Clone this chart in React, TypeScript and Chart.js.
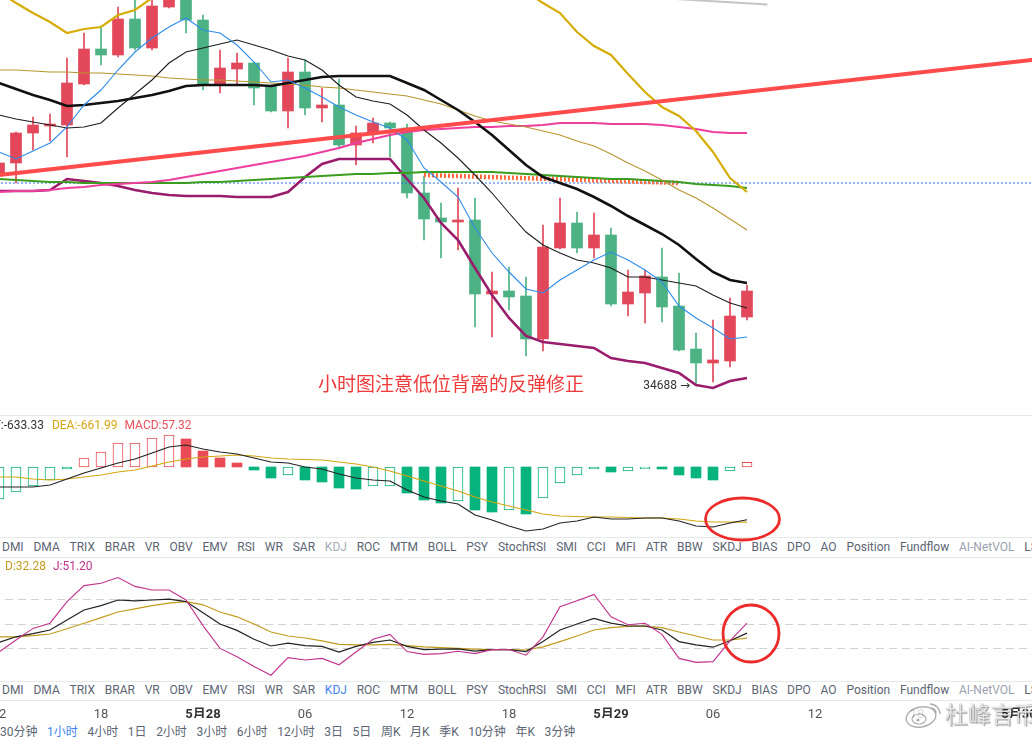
import React, { useEffect, useRef } from "react";
import { Chart, registerables } from "chart.js";

Chart.register(...registerables);
Chart.defaults.font.family = "Roboto, 'Noto Sans CJK SC', sans-serif";

// ---------------- data ----------------
// hourly candles, hour index relative to 5月28 00:00
const FIRST_HOUR = -12;
const OPEN = [36810, 36910, 37210, 37280, 37290, 37700, 38050, 37990, 38350, 38060, 38470, 38690,
  38340, 37700, 37850, 37910, 37680, 37430, 37820, 37460, 37490, 37090, 37210, 37310,
  37260, 36610, 36360, 36320, 36340, 35600, 35630, 35580, 35150, 36060, 36310, 36060,
  36190, 35500, 35610, 35770, 35480, 35050, 34910, 34930, 35370];
const HIGH = [36990, 37220, 37370, 37400, 37960, 38210, 38280, 38470, 38590, 38590, 38790, 38790,
  38390, 38040, 38010, 37920, 37690, 37960, 37940, 37660, 37750, 37280, 37360, 37320,
  37300, 36780, 36510, 36660, 36560, 35820, 35870, 35770, 36290, 36560, 36420, 36410,
  36260, 35840, 35840, 36060, 35810, 35210, 35340, 35560, 35690];
const LOW = [36740, 36710, 37040, 37130, 36970, 37690, 37890, 37970, 38040, 38040, 38460, 38210,
  37640, 37610, 37700, 37490, 37420, 37260, 37390, 37320, 37070, 36890, 37110, 36970,
  36560, 36140, 35960, 36040, 35270, 35170, 35440, 34980, 35030, 36050, 36010, 35960,
  35480, 35380, 35310, 35320, 35030, 34688, 34720, 34870, 35340];
const CLOSE = [36910, 37210, 37290, 37300, 37710, 38050, 37990, 38350, 38060, 38480, 38690, 38340,
  37700, 37860, 37910, 37660, 37430, 37820, 37460, 37490, 37090, 37210, 37310, 37260,
  36610, 36350, 36320, 36340, 35600, 35630, 35570, 35150, 36070, 36310, 36060, 36190,
  35500, 35620, 35780, 35470, 35040, 34910, 34940, 35380, 35630];

const MA_FAST = [37020, 36950, 37030, 37110, 37270, 37490, 37640, 37840, 38020, 38160, 38270, 38360,
  38240, 38210, 38090, 37920, 37720, 37740, 37660, 37570, 37470, 37390, 37320, 37260,
  37140, 36860, 36720, 36570, 36260, 36010, 35820, 35650, 35610, 35740, 35840, 35940,
  36020, 35940, 35840, 35720, 35480, 35360, 35260, 35150, 35170];
const MA_MID = [37390, 37350, 37320, 37290, 37260, 37270, 37310, 37460, 37600, 37740, 37910, 38020,
  38060, 38100, 38140, 38090, 38040, 37980, 37940, 37840, 37690, 37570, 37530, 37500,
  37390, 37240, 37110, 36960, 36790, 36610, 36410, 36220, 36090, 36010, 35940, 35910,
  35860, 35770, 35770, 35740, 35710, 35680, 35590, 35510, 35460];
const MA_SLOW = [37710, 37650, 37590, 37540, 37480, 37490, 37510, 37530, 37560, 37590, 37630, 37680,
  37690, 37690, 37690, 37690, 37680, 37710, 37740, 37770, 37780, 37780, 37780, 37780,
  37710, 37640, 37540, 37440, 37320, 37190, 37040, 36890, 36770, 36710, 36650, 36570,
  36480, 36380, 36290, 36200, 36090, 35950, 35820, 35740, 35710];
const MA_LONG = [37840, 37840, 37830, 37820, 37820, 37810, 37810, 37800, 37790, 37780, 37760, 37750,
  37740, 37740, 37730, 37720, 37710, 37700, 37690, 37670, 37660, 37640, 37620, 37600,
  37580, 37540, 37500, 37440, 37380, 37330, 37300, 37270, 37230, 37190, 37130, 37080,
  37000, 36910, 36830, 36740, 36640, 36560, 36460, 36350, 36240];
const BAND_UPPER = [38620, 38510, 38410, 38320, 38210, 38250, 38270, 38390, 38440, 38560, 38720, 38890,
  null, null, null, null, null, null, null, null, null, null, null, null,
  null, null, null, null, null, null, 38790, 38620, 38510, 38410, 38220, 38080,
  37990, 37800, 37620, 37470, 37380, 37230, 37020, 36760, 36620];
const BAND_LOWER = [36630, 36630, 36630, 36640, 36750, 36730, 36710, 36680, 36640, 36610, 36590, 36580,
  36580, 36580, 36570, 36570, 36570, 36620, 36770, 36900, 36950, 36950, 36950, 36950,
  36750, 36560, 36310, 36140, 35860, 35590, 35360, 35180, 35120, 35100, 35080, 35060,
  34960, 34930, 34910, 34860, 34810, 34690, 34660, 34730, 34760];
const MA_PINK = [36620, 36630, 36630, 36640, 36660, 36670, 36690, 36700, 36710, 36720, 36740, 36770,
  36800, 36830, 36860, 36890, 36920, 36950, 36980, 37020, 37060, 37110, 37150, 37190,
  37220, 37240, 37250, 37260, 37270, 37270, 37280, 37280, 37290, 37310, 37310, 37310,
  37300, 37300, 37300, 37290, 37270, 37250, 37220, 37210, 37210];
const MA_GREEN = [36750, 36740, 36730, 36720, 36720, 36710, 36710, 36710, 36710, 36710, 36710, 36710,
  36720, 36720, 36730, 36740, 36750, 36760, 36770, 36780, 36790, 36800, 36800, 36810,
  36810, 36820, 36820, 36820, 36820, 36820, 36810, 36800, 36790, 36780, 36770, 36760,
  36750, 36750, 36740, 36730, 36720, 36700, 36690, 36680, 36660];

const TREND_HOURS = [-12, 49];
const TREND_PRICES = [36789, 37944];
const SUPPORT_HOURS = [13, 28];
const SUPPORT_PRICES = [36790, 36710];
const PRICE_LINE_HOURS = [-14, 51];
const PRICE_LINE = [36710, 36710];
const GRAY_HOURS = [27.8, 33.2];
const GRAY_PRICES = [38550, 38495];
const LOW_LABEL = "34688 →";
const NOTE = "小时图注意低位背离的反弹修正";

const MACD_HIST = [-384, -300, -228, -156, -24, 108, 180, 288, 288, 348, 384, 336,
  192, 108, 48, -36, -132, -96, -156, -180, -252, -264, -228, -228,
  -312, -396, -432, -408, -516, -540, -516, -564, -372, -192, -96, -24,
  -60, -48, -20, -24, -96, -132, -156, -48, 57.32];
const DIF = [-240, -240, -240, -216, -144, -72, -12, 48, 96, 168, 240, 264,
  216, 180, 156, 108, 60, 48, 0, -24, -84, -132, -156, -168,
  -276, -360, -408, -444, -576, -636, -708, -768, -744, -672, -648, -600,
  -624, -624, -612, -612, -648, -708, -720, -672, -633.33];
const DEA = [-120, -120, -144, -156, -144, -120, -96, -60, -36, 12, 60, 96,
  120, 132, 144, 132, 108, 96, 90, 84, 60, 36, 0, -48,
  -108, -168, -228, -288, -360, -420, -468, -516, -564, -588, -594, -600,
  -600, -606, -612, -612, -624, -648, -660, -660, -661.99];

const K_LINE = [27, 34, 38, 42.5, 55, 67.5, 73, 80, 79, 80, 81, 78,
  64, 50, 42, 31, 22.5, 26, 23, 22, 15, 22, 27, 30,
  22, 18, 18.5, 19, 16, 18, 18, 15.5, 28, 42.5, 50, 57,
  51, 47.5, 47.5, 42.5, 28, 24, 21, 29, 38.61];
const D_LINE = [34, 34, 35.5, 37.5, 44, 51, 58, 65, 69, 73, 76, 78,
  74, 65, 59, 50, 40, 35, 32.5, 29, 24.5, 24, 24, 24.5,
  23, 21.5, 20.5, 19.5, 18.5, 18, 18, 17.5, 21.5, 28, 35, 42.5,
  45.5, 47, 47.5, 45.5, 40, 35, 30, 30, 32.28];
const J_LINE = [15, 30, 44.5, 51, 78, 98, 101, 108, 97, 92.5, 92.5, 80,
  48, 19.5, 9, -3, -14, 8, 5, 7, -1, 15, 31, 37,
  15.5, 12, 13, 16, 13, 18, 18, 11, 34, 71.5, 79, 87,
  59, 49, 51, 37, 7, 2, 3, 29, 51.2];
const KDJ_LEVELS = [20, 50, 80];

const TIME_TICKS = [-12, -6, 0, 6, 12, 18, 24, 30, 36, 42, 48];
const TIME_LABELS = ["12", "18", "5月28", "06", "12", "18", "5月29", "06", "12", "18", "5月30"];

const INDICATOR_TABS = ["DMI", "DMA", "TRIX", "BRAR", "VR", "OBV", "EMV", "RSI", "WR", "SAR", "KDJ", "ROC",
  "MTM", "BOLL", "PSY", "StochRSI", "SMI", "CCI", "MFI", "ATR", "BBW", "SKDJ", "BIAS", "DPO", "AO",
  "Position", "Fundflow", "AI-NetVOL", "LSR"];
const PERIOD_TABS = ["30分钟", "1小时", "4小时", "1日", "2小时", "3小时", "6小时", "12小时", "3日", "5日",
  "周K", "月K", "季K", "10分钟", "年K", "3分钟"];

// ---------------- layout ----------------
const HOURS = OPEN.map((_, i) => FIRST_HOUR + i);
const X_ZERO = 203;
const HOUR_PX = 17;
const CANVAS_LEFT = -34;
const CANVAS_W = 1100;
const X_MIN = (CANVAS_LEFT - X_ZERO) / HOUR_PX;
const X_MAX = (CANVAS_LEFT + CANVAS_W - X_ZERO) / HOUR_PX;

const RED = "#E2475A";
const GREEN = "#4CB283";
const MACD_RED = "#EA4C57";
const MACD_GREEN = "#07B37D";

const baseOptions = () => ({
  animation: false as const,
  responsive: false,
  devicePixelRatio: 1,
  layout: { padding: 0 },
  events: [] as any[],
  plugins: { legend: { display: false }, tooltip: { enabled: false } },
});

const pts = (hours: number[], arr: (number | null)[]) => arr.map((v, i) => ({ x: hours[i], y: v }));
const line = (arr: (number | null)[], color: string, width: number, extra: any = {}, hours = HOURS) => ({
  type: "line",
  data: pts(hours, arr),
  borderColor: color,
  borderWidth: width,
  pointRadius: 0,
  tension: 0,
  fill: false,
  spanGaps: false,
  order: 1,
  ...extra,
});

const lowLabelPlugin = {
  id: "lowLabel",
  afterDatasetsDraw(chart: any) {
    const { ctx, scales } = chart;
    let idx = 0;
    LOW.forEach((v, i) => { if (v < LOW[idx]) idx = i; });
    const x = scales.x.getPixelForValue(HOURS[idx]);
    const y = scales.y.getPixelForValue(LOW[idx]);
    ctx.save();
    ctx.font = "12px Roboto, 'DejaVu Sans'";
    ctx.fillStyle = "#333";
    ctx.textAlign = "right";
    ctx.textBaseline = "middle";
    ctx.fillText(LOW_LABEL, x - 6, y + 1);
    ctx.restore();
  },
};

function mainConfig(): any {
  const colors = OPEN.map((o, i) => (CLOSE[i] >= o ? RED : GREEN));
  return {
    type: "bar",
    data: {
      datasets: [
        line(TREND_PRICES, "#FF4B4B", 4, { order: 0 }, TREND_HOURS),
        line(MA_FAST, "#2D8CEB", 1.1),
        line(MA_MID, "#1E1E1E", 1.1),
        line(MA_SLOW, "#111111", 2.6),
        line(MA_LONG, "#B8962E", 1.1),
        line(BAND_UPPER, "#D6AD06", 2.2),
        line(MA_PINK, "#EE3E9E", 2),
        line(MA_GREEN, "#3A9D1E", 2.2),
        line(BAND_LOWER, "#9A1C6C", 2.6),
        line(SUPPORT_PRICES, "#FF6A3D", 4.5, { borderDash: [2, 2], order: 2 }, SUPPORT_HOURS),
        line(PRICE_LINE, "#2B6FE6", 1, { borderDash: [2, 2], order: 3 }, PRICE_LINE_HOURS),
        line(GRAY_PRICES, "#C4C4C4", 2, {}, GRAY_HOURS),
        {
          type: "bar",
          data: HOURS.map((h, i) => ({ x: h, y: [LOW[i], HIGH[i]] })),
          backgroundColor: colors,
          barThickness: 1,
          grouped: false,
          order: 20,
        },
        {
          type: "bar",
          data: HOURS.map((h, i) => ({ x: h, y: [OPEN[i], CLOSE[i]] })),
          backgroundColor: colors,
          barThickness: 11,
          minBarLength: 2,
          grouped: false,
          order: 19,
        },
      ],
    },
    options: {
      ...baseOptions(),
      scales: {
        x: { type: "linear", min: X_MIN, max: X_MAX, display: false, offset: false },
        y: { type: "linear", min: 34390, max: 38540, display: false },
      },
    },
    plugins: [lowLabelPlugin],
  };
}

function macdConfig(): any {
  const hollow = MACD_HIST.map((v, i) => i === 0 || v >= MACD_HIST[i - 1]);
  const col = MACD_HIST.map((v) => (v >= 0 ? MACD_RED : MACD_GREEN));
  return {
    type: "bar",
    data: {
      datasets: [
        line(DIF, "#222222", 1.2),
        line(DEA, "#D4A60E", 1.2),
        {
          type: "bar",
          data: HOURS.map((h, i) => ({ x: h, y: MACD_HIST[i] })),
          backgroundColor: col.map((c, i) => (hollow[i] ? "#ffffff" : c)),
          borderColor: col,
          borderWidth: hollow.map((h) => (h ? 1 : 0)),
          borderSkipped: false,
          barThickness: 10,
          grouped: false,
          order: 10,
        },
      ],
    },
    options: {
      ...baseOptions(),
      scales: {
        x: { type: "linear", min: X_MIN, max: X_MAX, display: false, offset: false },
        y: { type: "linear", min: -840, max: 612, display: false },
      },
    },
  };
}

function kdjConfig(): any {
  return {
    type: "line",
    data: {
      datasets: [
        line(J_LINE, "#C2318A", 1.1),
        line(K_LINE, "#222222", 1.2),
        line(D_LINE, "#C29B1B", 1.2),
      ],
    },
    options: {
      ...baseOptions(),
      scales: {
        x: { type: "linear", min: X_MIN, max: X_MAX, display: false },
        y: {
          type: "linear",
          min: -21.25,
          max: 132.5,
          position: "left",
          afterBuildTicks: (axis: any) => { axis.ticks = KDJ_LEVELS.map((v) => ({ value: v })); },
          afterFit: (axis: any) => { axis.width = 0; },
          ticks: { display: false },
          grid: { color: "#d2d2d2", drawTicks: false, lineWidth: 1 },
          border: { display: false, dash: [8, 5] },
        },
      },
    },
  };
}

function timeConfig(): any {
  const isDay = (i: number) => (TIME_LABELS[i] || "").includes("月");
  return {
    type: "line",
    data: { datasets: [] },
    options: {
      ...baseOptions(),
      scales: {
        x: {
          type: "linear",
          min: X_MIN,
          max: X_MAX,
          position: "bottom",
          grid: { display: false, drawTicks: false },
          border: { display: false },
          afterBuildTicks: (axis: any) => { axis.ticks = TIME_TICKS.map((v) => ({ value: v })); },
          ticks: {
            autoSkip: false,
            maxRotation: 0,
            padding: 2,
            callback: (_v: any, i: number) => TIME_LABELS[i],
            color: (c: any) => (isDay(c.index) ? "#333333" : "#555555"),
            font: (c: any) => ({ size: 13, weight: isDay(c.index) ? "bold" : "normal" }),
          },
        },
        y: { display: false },
      },
    },
  };
}

function ChartCanvas({ make, top, height }: { make: () => any; top: number; height: number }) {
  const ref = useRef<HTMLCanvasElement>(null);
  useEffect(() => {
    const chart = new Chart(ref.current as HTMLCanvasElement, make());
    return () => chart.destroy();
  }, []);
  return (
    <canvas
      ref={ref}
      width={CANVAS_W}
      height={height}
      style={{ position: "absolute", left: CANVAS_LEFT, top, width: CANVAS_W, height }}
    />
  );
}

const Rule = ({ y }: { y: number }) => (
  <div style={{ position: "absolute", left: 0, top: y, width: 1032, height: 1, background: "#e7e8ea" }} />
);

const Row = ({ y, children, left = 2, gap = 9.8 }: any) => (
  <div
    style={{
      position: "absolute",
      left,
      top: y,
      transform: "translateY(-50%)",
      display: "flex",
      gap,
      whiteSpace: "nowrap",
      lineHeight: "16px",
      fontSize: 12,
      fontFamily: "Roboto, 'Noto Sans CJK SC', sans-serif",
      color: "#5c6573",
    }}
  >
    {children}
  </div>
);

function IndicatorTabs({ y, active }: { y: number; active: boolean }) {
  return (
    <Row y={y} gap={9.8}>
      {INDICATOR_TABS.map((t) => (
        <span
          key={t}
          style={{
            color: t === "KDJ" ? (active ? "#3E83F0" : "#a5acb6") : t === "AI-NetVOL" ? "#9aa2ad" : "#5c6573",
          }}
        >
          {t}
        </span>
      ))}
    </Row>
  );
}

export default function App() {
  return (
    <div
      style={{
        position: "fixed",
        left: 0,
        top: 0,
        width: 1032,
        height: 740,
        overflow: "hidden",
        background: "#ffffff",
      }}
    >
      <ChartCanvas make={mainConfig} top={0} height={415} />
      <div
        style={{
          position: "absolute",
          left: 318,
          top: 383,
          transform: "translateY(-50%)",
          fontSize: 19,
          lineHeight: "22px",
          color: "#F03A3A",
          fontFamily: "'Noto Sans CJK SC', sans-serif",
          whiteSpace: "nowrap",
        }}
      >
        {NOTE}
      </div>

      <Rule y={415} />
      <ChartCanvas make={macdConfig} top={416} height={121} />
      <div
        style={{
          position: "absolute",
          left: -17,
          top: 425,
          transform: "translateY(-50%)",
          fontSize: 12,
          lineHeight: "14px",
          fontFamily: "Roboto, sans-serif",
          whiteSpace: "nowrap",
        }}
      >
        <span style={{ color: "#333" }}>DIF:{DIF[DIF.length - 1].toFixed(2)}</span>
        <span style={{ color: "#D4A60E", marginLeft: 8 }}>DEA:{DEA[DEA.length - 1].toFixed(2)}</span>
        <span style={{ color: "#E8505B", marginLeft: 7 }}>MACD:{MACD_HIST[MACD_HIST.length - 1].toFixed(2)}</span>
      </div>

      <Rule y={537} />
      <IndicatorTabs y={547} active={false} />
      <Rule y={557} />

      <ChartCanvas make={kdjConfig} top={558} height={123} />
      <div
        style={{
          position: "absolute",
          left: 5,
          top: 566,
          transform: "translateY(-50%)",
          fontSize: 12,
          lineHeight: "14px",
          fontFamily: "Roboto, sans-serif",
          whiteSpace: "nowrap",
        }}
      >
        <span style={{ color: "#C29B1B" }}>D:{D_LINE[D_LINE.length - 1].toFixed(2)}</span>
        <span style={{ color: "#C2318A", marginLeft: 7 }}>J:{J_LINE[J_LINE.length - 1].toFixed(2)}</span>
      </div>

      <Rule y={681} />
      <IndicatorTabs y={690} active={true} />
      <Rule y={700} />

      <ChartCanvas make={timeConfig} top={692} height={26} />

      <Row y={732} left={0} gap={9.6}>
        {PERIOD_TABS.map((t) => (
          <span key={t} style={{ color: t === "1小时" ? "#3E83F0" : "#5c6573" }}>
            {t}
          </span>
        ))}
      </Row>

      <svg
        width={1032}
        height={740}
        style={{ position: "absolute", left: 0, top: 0, pointerEvents: "none" }}
      >
        <ellipse cx={742.5} cy={519} rx={37} ry={21} fill="none" stroke="#EE2B2B" strokeWidth={2.8} />
        <ellipse cx={751} cy={633.5} rx={28} ry={28.5} fill="none" stroke="#EE2B2B" strokeWidth={2.8} />
        <g opacity={0.8}>
          <ellipse cx={921} cy={717} rx={15} ry={10} transform="rotate(-12 921 717)" fill="#fff" stroke="#9a9a9a" strokeWidth={1.4} />
          <ellipse cx={919} cy={719} rx={7} ry={5} fill="#fff" stroke="#9a9a9a" strokeWidth={1.2} />
          <circle cx={918} cy={720} r={1.6} fill="#9a9a9a" />
          <path d="M930 704 a10 10 0 0 1 10 10" fill="none" stroke="#9a9a9a" strokeWidth={1.4} />
          <path d="M931 708 a5 5 0 0 1 5 5" fill="none" stroke="#9a9a9a" strokeWidth={1.4} />
        </g>
      </svg>
      <div
        style={{
          position: "absolute",
          left: 945,
          top: 713,
          transform: "translateY(-50%)",
          fontSize: 23,
          lineHeight: "26px",
          fontFamily: "'Noto Sans CJK SC', sans-serif",
          color: "rgba(255,255,255,0.82)",
          textShadow: "0 0 1px rgba(0,0,0,0.55), 1px 1px 1px rgba(0,0,0,0.35)",
          whiteSpace: "nowrap",
          pointerEvents: "none",
        }}
      >
        杜峰言币
      </div>
    </div>
  );
}
